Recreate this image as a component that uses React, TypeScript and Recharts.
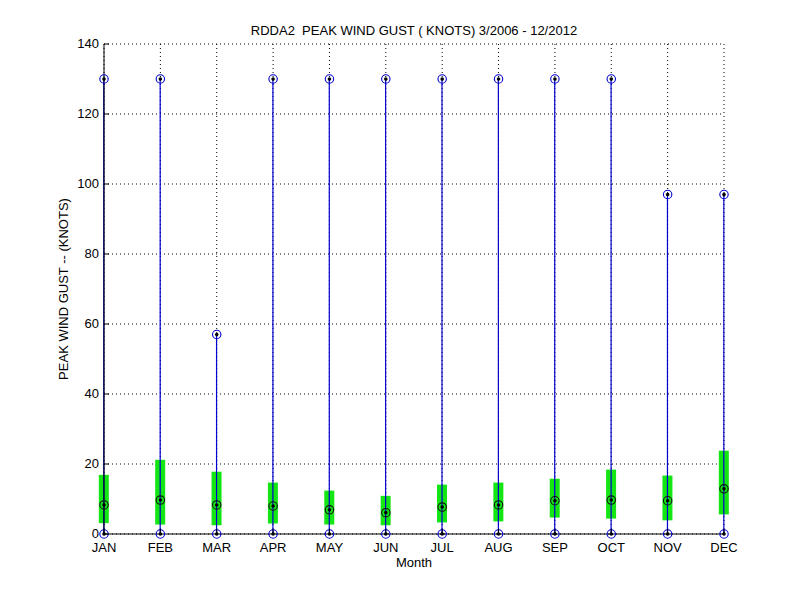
import React from "react";
import {
  Bar,
  CartesianGrid,
  ComposedChart,
  Scatter,
  XAxis,
  YAxis,
} from "recharts";

const months = ["JAN", "FEB", "MAR", "APR", "MAY", "JUN", "JUL", "AUG", "SEP", "OCT", "NOV", "DEC"];
const maxGust = [130, 130, 57, 130, 130, 130, 130, 130, 130, 130, 97, 97];
const minGust = [0, 0, 0, 0, 0, 0, 0, 0, 0, 0, 0, 0];
const lowerQuartile = [3.1, 2.7, 2.5, 3.0, 2.7, 2.5, 3.3, 3.6, 4.7, 4.4, 3.9, 5.6];
const upperQuartile = [16.9, 21.2, 17.8, 14.7, 12.4, 10.9, 14.1, 14.7, 15.8, 18.4, 16.7, 23.8];
const medianGust = [8.3, 9.7, 8.3, 8.0, 6.9, 6.1, 7.7, 8.3, 9.5, 9.7, 9.5, 12.9];
const yTicks = [0, 20, 40, 60, 80, 100, 120, 140];

const title = "RDDA2  PEAK WIND GUST ( KNOTS) 3/2006 - 12/2012";
const xTitle = "Month";
const yTitle = "PEAK WIND GUST -- (KNOTS)";

const FONT = '"Liberation Sans", Arial, Helvetica, sans-serif';
const BLUE = "#0000d0";

const data = months.map((m, i) => ({
  x: i + 1,
  name: m,
  max: maxGust[i],
  min: minGust[i],
  box: [lowerQuartile[i], upperQuartile[i]],
  whisker: [minGust[i], maxGust[i]],
  median: medianGust[i],
}));

const monthTicks = data.map((d) => d.x);

function YTick({ x, y, payload }: any) {
  return (
    <g>
      <line x1={x} x2={x + 5} y1={y} y2={y} stroke="#000" />
      <text x={x - 5} y={y} dy="0.34em" textAnchor="end" fontSize={13} fontFamily={FONT} fill="#000">
        {payload.value}
      </text>
    </g>
  );
}

function XTick({ x, y, payload }: any) {
  return (
    <g>
      <line x1={x} x2={x} y1={y} y2={y - 5} stroke="#000" />
      <text x={x} y={y + 18} textAnchor="middle" fontSize={13} fontFamily={FONT} fill="#000">
        {months[payload.value - 1]}
      </text>
    </g>
  );
}

function WhiskerShape({ x, y, width, height }: any) {
  const cx = x + width / 2;
  return <line x1={cx} x2={cx} y1={y} y2={y + height} stroke={BLUE} strokeWidth={1.2} />;
}

function ringMarker(color: string) {
  return ({ cx, cy }: any) => (
    <g>
      <circle cx={cx} cy={cy} r={4.2} fill="none" stroke={color} strokeWidth={1.1} />
      <circle cx={cx} cy={cy} r={1.8} fill="#000" />
    </g>
  );
}

export default function App() {
  return (
    <div style={{ position: "relative", width: 784, height: 584 }}>
      <ComposedChart
        width={784}
        height={584}
        data={data}
        margin={{ top: 36, right: 68, bottom: 38, left: 0 }}
      >
        <CartesianGrid stroke="#000" strokeDasharray="1 3" />
        <XAxis
          dataKey="x"
          type="number"
          domain={[1, 12]}
          ticks={monthTicks}
          interval={0}
          height={20}
          tickSize={0}
          tickMargin={0}
          tick={<XTick />}
          axisLine={{ stroke: "#000" }}
        />
        <XAxis xAxisId="box" dataKey="x" type="number" domain={[1, 12]} hide />
        <YAxis
          type="number"
          domain={[0, 140]}
          ticks={yTicks}
          interval={0}
          width={96}
          tickSize={0}
          tickMargin={0}
          tick={<YTick />}
          axisLine={{ stroke: "#000" }}
        />
        <Bar xAxisId="box" dataKey="box" barSize={10} fill="#14e614" isAnimationActive={false} />
        <Bar dataKey="whisker" barSize={2} shape={<WhiskerShape />} isAnimationActive={false} />
        <Scatter dataKey="max" shape={ringMarker(BLUE)} isAnimationActive={false} />
        <Scatter dataKey="min" shape={ringMarker(BLUE)} isAnimationActive={false} />
        <Scatter dataKey="median" shape={ringMarker("#111")} isAnimationActive={false} />
      </ComposedChart>
      <svg
        width={784}
        height={584}
        style={{ position: "absolute", left: 0, top: 0, pointerEvents: "none" }}
      >
        <text
          x={406}
          y={27}
          textAnchor="middle"
          fontSize={13}
          fontFamily={FONT}
          fill="#000"
          style={{ whiteSpace: "pre" }}
        >
          {title}
        </text>
        <text x={406} y={559} textAnchor="middle" fontSize={13} fontFamily={FONT} fill="#000">
          {xTitle}
        </text>
        <text
          x={60}
          y={281}
          transform="rotate(-90 60 281)"
          textAnchor="middle"
          fontSize={13}
          fontFamily={FONT}
          fill="#000"
        >
          {yTitle}
        </text>
      </svg>
    </div>
  );
}
